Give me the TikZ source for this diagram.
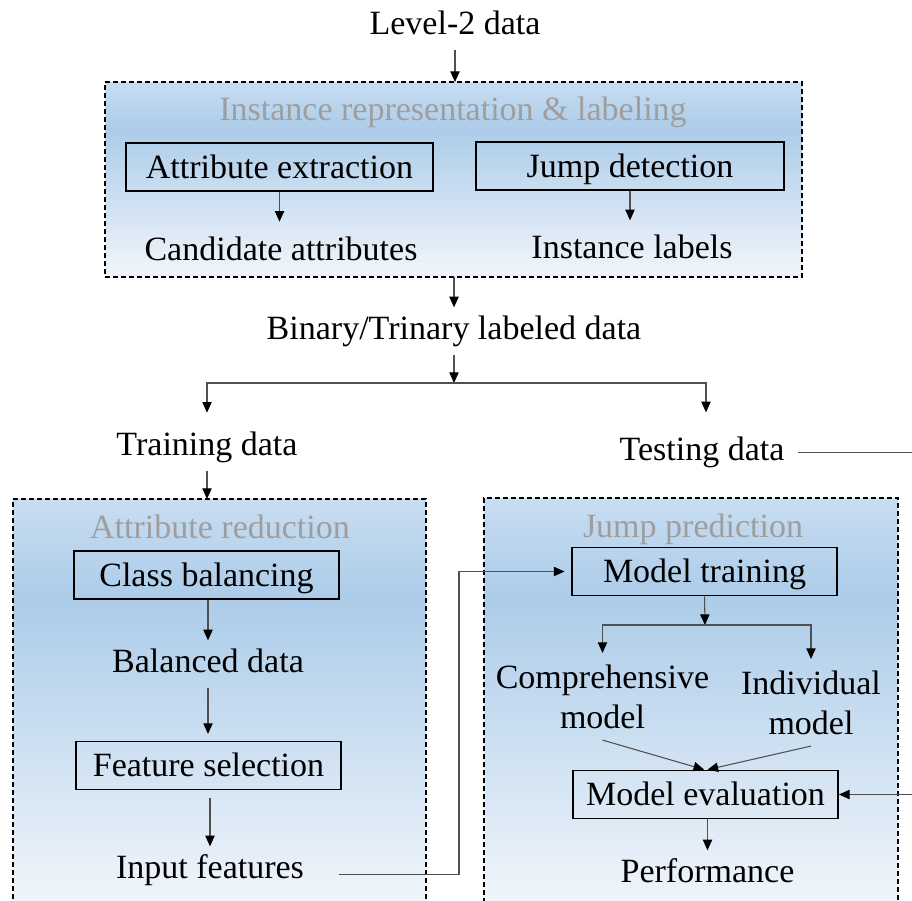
\documentclass[tikz,border=0pt]{standalone}
\usepackage{fontspec}
\setmainfont{Liberation Serif}
\usetikzlibrary{arrows.meta,calc}

\definecolor{bandtop}{RGB}{200,221,241}
\definecolor{banddark}{RGB}{172,204,233}
\definecolor{bandlow}{RGB}{242,246,251}
\definecolor{titlegray}{RGB}{158,158,158}
\definecolor{wire}{RGB}{80,80,80}

% blue band, darkest about a quarter below the top, fading to near white
\pgfdeclareverticalshading{groupfade}{100bp}{%
  color(0bp)=(bandlow); color(25bp)=(bandlow); color(63bp)=(banddark);
  color(75bp)=(bandtop); color(100bp)=(bandtop)}

\begin{document}
\begin{tikzpicture}[x=0.75pt,y=-0.75pt,
  font=\fontsize{25.5}{30}\selectfont,
  grp/.style={draw=black, dash pattern=on 3.5pt off 2.5pt, line width=1.1pt,
              shade, shading=groupfade, inner sep=0pt, outer sep=0pt},
  stepbox/.style={draw=black, line width=1.3pt, minimum height=36pt,
              text height=19.1pt, text depth=2.5pt, inner sep=0pt},
  lbl/.style={anchor=base, text height=16.8pt, text depth=5.1pt,
              inner ysep=6.75pt, inner xsep=10pt},
  twoline/.style={align=center, inner sep=8.5pt},
  ttl/.style={anchor=base, text=titlegray},
  arr/.style={draw=wire, line width=0.8pt,
              -{Triangle[length=8pt,width=7pt,color=black]}}]

\useasboundingbox (0,0) rectangle (912,900);
\clip (0,0) rectangle (912,900);
\fill[white] (0,0) rectangle (912,900);

% dashed group panels
\node[grp, minimum width=522.75pt, minimum height=146.25pt] (grp1) at (453.5,179.5) {};
\node[grp, minimum width=309.75pt, minimum height=308.25pt] (grp2) at (219.5,704.5) {};
\node[grp, minimum width=310.5pt,  minimum height=309pt]    (grp3) at (691,704) {};

% panel titles
\node[ttl] (t1) at (453,120) {Instance representation \& labeling};
\node[ttl] (t2) at (220,538) {Attribute reduction};
\node[ttl] (t3) at (693,537) {Jump prediction};

% process boxes
\node[stepbox, minimum width=230.25pt] (aext)   at (279.5,167)   {Attribute extraction};
\node[stepbox, minimum width=231pt]    (jdet)   at (630,166)     {Jump detection};
\node[stepbox, minimum width=198.75pt] (cbal)   at (206.5,575)   {Class balancing};
\node[stepbox, minimum width=198.75pt] (fsel)   at (208.5,765.5) {Feature selection};
\node[stepbox, minimum width=198.75pt] (mtrain) at (704.5,571.5) {Model training};
\node[stepbox, minimum width=198.75pt] (meval)  at (705.5,794.5) {Model evaluation};

% data labels
\node[lbl] (lvl)   at (455,34)  {Level-2 data};
\node[lbl] (cand)  at (281,260) {Candidate attributes};
\node[lbl] (inst)  at (632,258) {Instance labels};
\node[lbl] (bin)   at (454,339) {Binary/Trinary labeled data};
\node[lbl] (train) at (207,455) {Training data};
\node[lbl] (test)  at (702,460) {Testing data};
\node[lbl] (bal)   at (208,672) {Balanced data};
\node[lbl] (inp)   at (210,878) {Input features};
\node[lbl] (perf)  at (707.5,882) {Performance};
\node[twoline] (comp)  at (602.5,696.5) {Comprehensive\\model};
\node[twoline] (indiv) at (811,702.5)   {Individual\\model};

% branch points and outer routing
\coordinate (split1) at (454,383);
\coordinate (split2) at (705,625);
\coordinate (jog) at (459,0);
\coordinate (rim) at (930,0);

% connectors
\draw[arr] (lvl.south) -- (lvl.south |- grp1.north);
\draw[arr, shorten >=5pt] (aext.south) -- (aext.south |- cand.north);
\draw[arr, shorten >=4.5pt] (jdet.south) -- (jdet.south |- inst.north);
\draw[arr] (bin.north |- grp1.south) -- (bin.north);
\draw[arr] (bin.south) -- (split1);
\draw[arr, shorten >=8pt] (split1) -| (train.north);
\draw[arr, shorten >=12pt] (split1) -| ([xshift=3pt]test.north);
\draw[arr] (train.south) -- (train.south |- grp2.north);
\draw[arr] (bal.north |- cbal.south) -- (bal.north);
\draw[arr, shorten >=5pt] (bal.south) -- (bal.south |- fsel.north);
\draw[arr, shorten <=6pt] (inp.north |- fsel.south) -- (inp.north);
\draw[arr, shorten <=16pt, shorten >=5pt] ([yshift=-3pt]inp.east) -- ([yshift=-3pt]inp.east -| jog) |- (mtrain.west);
\draw[arr] (mtrain.south) -- (split2);
\draw[arr] (split2) -| (comp.north);
\draw[arr] (split2) -| (indiv.north);
\draw[arr] (comp.south) -- ([xshift=-1pt]meval.north);
\draw[arr] (indiv.south) -- ([xshift=1.5pt]meval.north);
\draw[arr] (perf.north |- meval.south) -- (perf.north);
\draw[arr] (test.east) -- (test.east -| rim) |- (meval.east);

\end{tikzpicture}
\end{document}
